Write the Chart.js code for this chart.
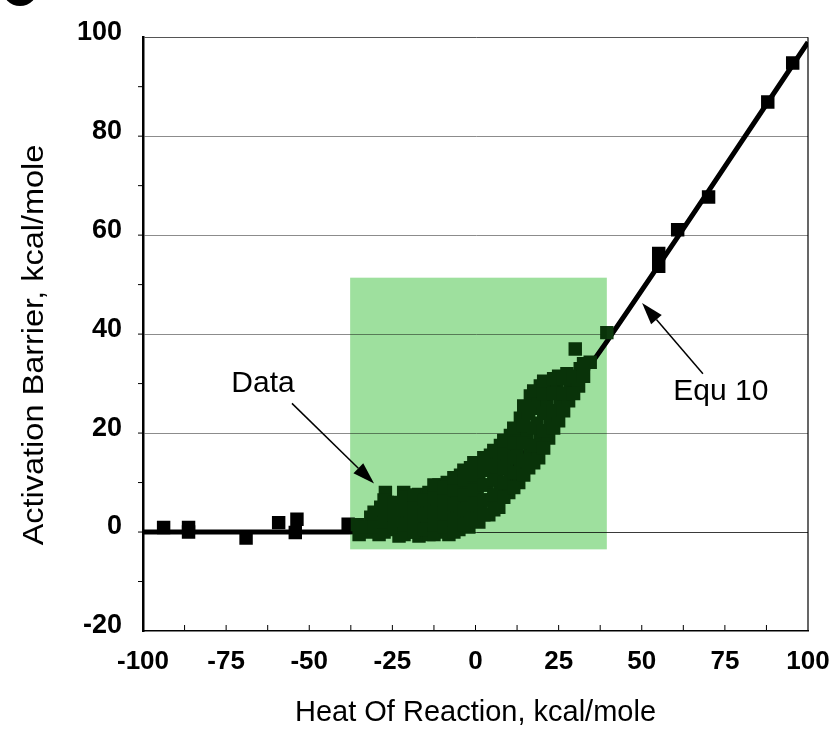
<!DOCTYPE html>
<html>
<head>
<meta charset="utf-8">
<title>Activation Barrier vs Heat Of Reaction</title>
<script src="https://cdn.jsdelivr.net/npm/chart.js@4.4.0/dist/chart.umd.min.js"></script>
<style>
  html, body { margin: 0; padding: 0; background: #fff; }
  #wrap { width: 836px; height: 731px; }
</style>
</head>
<body>
<div id="wrap"><canvas id="barrierChart" width="836" height="731"></canvas></div>
<script>
// measured points (heat of reaction, activation barrier), kcal/mole
const heatX = [
  // flat part on the left
  -93.8, -86.3, -86.3, -69, -59.2, -53.7, -54.2, -38.3,
  // loose points in the cloud
  -33.6, -28.6, -27.1, -21.6, -17.1, 30, 39.5, 34.5,
  // the dense cloud
  -35, -35.5, -32, -31.5, -29, -29.5, -28.5, -26, -25.5, -26.5, -23, -23.5, -22.5,
  -20, -19.5, -20.5, -17, -16.5, -17.5, -14, -14.5, -13.5, -14, -11, -10.5, -11.5, -11,
  -8, -8.5, -7.5, -8, -8.5, -5, -4.5, -5.5, -5, -4.5, -2, -1.5, -2.5, -2, -1.5,
  1, 1.5, 0.5, 1, 1.5, 4, 4.5, 3.5, 4, 4.5, 7, 7.5, 6.5, 7, 7.5,
  10, 10.5, 9.5, 10, 10.5, 13, 13.5, 12.5, 13, 13.5, 16, 16.5, 15.5, 16, 16.5,
  19, 19.5, 18.5, 19, 19.5, 22, 22.5, 21.5, 22, 25, 25.5, 24.5, 25, 28, 28.5, 27.5, 31, 31.5,
  // between the rows above
  -33.5, -30.5, -30.5, -27.5, -27.5, -27.5, -27.5, -24.5, -24.5, -24.5,
  -21.5, -21.5, -21.5, -21.5, -18.5, -18.5, -18.5, -18.5, -15.5, -15.5, -15.5,
  -12.5, -12.5, -12.5, -12.5, -12.5, -9.5, -9.5, -9.5, -9.5,
  -6.5, -6.5, -6.5, -6.5, -6.5, -3.5, -3.5, -3.5, -3.5, -3.5, -0.5, -0.5, -0.5, -0.5, -0.5,
  2.5, 2.5, 2.5, 2.5, 2.5, 5.5, 5.5, 5.5, 5.5, 5.5, 8.5, 8.5, 8.5, 8.5, 8.5,
  11.5, 11.5, 11.5, 11.5, 11.5, 14.5, 14.5, 14.5, 14.5, 14.5, 17.5, 17.5, 17.5, 17.5, 17.5,
  20.5, 20.5, 20.5, 20.5, 20.5, 23.5, 23.5, 23.5, 23.5, 26.5, 26.5, 26.5, 29.5, 29.5, 32.5, 32.5,
  // right side on the line
  55.1, 55.1, 60.8, 70.1, 87.9, 95.4
];
const barrierY = [
  0.9, 0.9, 0, -1.2, 1.9, 2.6, -0.1, 1.6,
  0.5, 2.6, 8.0, 8.0, 7.6, 37.0, 40.3, 34.3,
  -0.5, 1.5, 0, 3, -0.5, 2.5, 5, 0.5, 3.5, 6, -0.8, 2, 4.5,
  0, 3, 6, -0.8, 1.5, 4, -0.5, 2.5, 5, 8, 0, 3, 5.5, 9.5,
  -0.5, 2, 4.5, 7, 10, 0.5, 3, 6, 9, 11.5, 1, 4, 7, 10, 13,
  2, 5, 8, 11, 14, 3.5, 6.5, 9.5, 12.5, 15.5, 5, 8, 11, 14, 17.5,
  8, 11, 14, 17, 19.5, 10, 13, 16, 19, 23, 13, 16, 20, 24, 27.5,
  15, 18.5, 22, 26, 29.5, 19, 22.5, 26, 29.5, 22.5, 26, 29, 31.5, 26.5, 30, 32, 29.5, 33,
  1, 1, 4, 0, 2, 4.5, 6.5, 1, 3.5, 6,
  -0.5, 1.5, 4.5, 7, 0, 2.5, 5, 7.5, 0.5, 3.5, 6.5,
  -0.5, 1.5, 4, 7, 9.5, 1, 4, 6.5, 9,
  0, 2.5, 5.5, 8.5, 11, 1.5, 4.5, 7.5, 10.5, 12.5, 2.5, 5.5, 8.5, 11.5, 14,
  3.5, 6.5, 9.5, 12.5, 15, 4.5, 7.5, 10.5, 13.5, 16.5, 7, 10, 13, 16, 18.5,
  9, 12, 15, 18, 21, 11.5, 14.5, 18, 21.5, 25.5, 14, 17.5, 21, 25, 28.5,
  17, 20.5, 24, 28, 30.5, 21, 24.5, 28, 31, 24.5, 28, 31, 28, 31.5, 31.5, 34,
  53.7, 56.3, 61.1, 67.7, 86.9, 94.8
];

// Equ 10 curve
const equX = [-100, -38, -30, -20, -10, 0, 10, 20, 30, 40, 100];
const equY = [0, 0, 0.5, 2, 4.5, 8, 13, 20, 29.5, 39, 99];

const xTicks = [-100, -75, -50, -25, 0, 25, 50, 75, 100];
const yTicks = [-20, 0, 20, 40, 60, 80, 100];
const xMinor = [-87.5, -62.5, -37.5, -12.5, 12.5, 37.5, 62.5, 87.5];
const yMinor = [-10, 10, 30, 50, 70, 90];

// shaded data region
const boxX = [-37.7, 39.5];
const boxY = [-3.5, 51.4];

// annotations: label, text position, arrow tail and head
const noteText = ["Data", "Equ 10"];
const noteX = [-63.9, 73.8];
const noteY = [30.0, 28.4];
const arrowFrom = [[-55.2, 26.0], [68.4, 32.0]];
const arrowTo = [[-30.5, 9.8], [50.1, 46.3]];

const yTitle = "Activation Barrier, kcal/mole";
const FONT = "'Liberation Sans', Arial, sans-serif";

function inBox(p) {
  return p && p.x >= boxX[0] && p.x <= boxX[1] && p.y >= boxY[0] && p.y <= boxY[1];
}

const extrasPlugin = {
  id: "extras",
  afterDatasetsDraw(chart) {
    const { ctx, chartArea, scales } = chart;
    const xs = scales.x, ys = scales.y;
    ctx.save();

    // green box, multiplied over grid and markers
    const bx0 = xs.getPixelForValue(boxX[0]), bx1 = xs.getPixelForValue(boxX[1]);
    const by0 = ys.getPixelForValue(boxY[1]), by1 = ys.getPixelForValue(boxY[0]);
    ctx.globalCompositeOperation = "multiply";
    ctx.fillStyle = "rgb(158,224,158)";
    ctx.fillRect(bx0, by0, bx1 - bx0, by1 - by0);
    ctx.globalCompositeOperation = "source-over";

    // right frame line
    ctx.strokeStyle = "#000";
    ctx.lineWidth = 1.2;
    ctx.beginPath();
    ctx.moveTo(chartArea.right, chartArea.top);
    ctx.lineTo(chartArea.right, chartArea.bottom);
    ctx.stroke();

    // small tick marks
    ctx.lineWidth = 1;
    ctx.beginPath();
    xMinor.concat(xTicks.slice(1, -1)).forEach(v => {
      const px = xs.getPixelForValue(v);
      ctx.moveTo(px, chartArea.bottom);
      ctx.lineTo(px, chartArea.bottom - 6);
    });
    yMinor.concat(yTicks.slice(1, -1)).forEach(v => {
      const py = ys.getPixelForValue(v);
      ctx.moveTo(chartArea.left, py);
      ctx.lineTo(chartArea.left - 5, py);
    });
    ctx.stroke();

    // arrows + labels
    noteText.forEach((t, i) => {
      const x0 = xs.getPixelForValue(arrowFrom[i][0]), y0 = ys.getPixelForValue(arrowFrom[i][1]);
      const x1 = xs.getPixelForValue(arrowTo[i][0]), y1 = ys.getPixelForValue(arrowTo[i][1]);
      const ang = Math.atan2(y1 - y0, x1 - x0);
      const headLen = 22, headW = 7;
      const bx = x1 - headLen * Math.cos(ang), by = y1 - headLen * Math.sin(ang);
      ctx.strokeStyle = "#000";
      ctx.lineWidth = 1.5;
      ctx.beginPath();
      ctx.moveTo(x0, y0);
      ctx.lineTo(bx, by);
      ctx.stroke();
      ctx.fillStyle = "#000";
      ctx.beginPath();
      ctx.moveTo(x1, y1);
      ctx.lineTo(bx + headW * Math.sin(ang), by - headW * Math.cos(ang));
      ctx.lineTo(bx - headW * Math.sin(ang), by + headW * Math.cos(ang));
      ctx.closePath();
      ctx.fill();

      ctx.font = "30px " + FONT;
      ctx.textAlign = "center";
      ctx.textBaseline = "middle";
      ctx.fillText(t, xs.getPixelForValue(noteX[i]), ys.getPixelForValue(noteY[i]));
    });

    // y title, a little stretched like the scan
    ctx.save();
    ctx.translate(35, 345);
    ctx.rotate(-Math.PI / 2);
    ctx.scale(1.12, 1);
    ctx.font = "29px " + FONT;
    ctx.textAlign = "center";
    ctx.textBaseline = "middle";
    ctx.fillText(yTitle, 0, 0);
    ctx.restore();

    // corner of the figure badge, cut off by the page edge
    ctx.beginPath();
    ctx.arc(20, -12, 18, 0, Math.PI * 2);
    ctx.fill();

    ctx.restore();
  }
};

const ctx = document.getElementById("barrierChart");
new Chart(ctx, {
  type: "scatter",
  data: {
    datasets: [
      {
        label: "Data",
        data: heatX.map((x, i) => ({ x: x, y: barrierY[i] })),
        pointStyle: "rect",
        pointRadius: 9.5,
        backgroundColor: c => inBox(c.raw) ? "#0e3a0e" : "#000",
        borderWidth: 0,
        order: 1
      },
      {
        label: "Equ 10",
        type: "line",
        data: equX.map((x, i) => ({ x: x, y: equY[i] })),
        borderColor: "#000",
        borderWidth: 5,
        pointRadius: 0,
        cubicInterpolationMode: "monotone",
        fill: false,
        order: 2
      }
    ]
  },
  options: {
    responsive: false,
    animation: false,
    events: [],
    layout: { padding: { left: 0, top: 36, right: 28, bottom: 0 } },
    plugins: { legend: { display: false }, tooltip: { enabled: false } },
    scales: {
      x: {
        type: "linear",
        min: -100,
        max: 100,
        afterBuildTicks: s => { s.ticks = xTicks.map(v => ({ value: v })); },
        afterFit: s => { s.height = 100; s.paddingRight = 28; },
        grid: { display: false, drawTicks: false },
        border: { color: "#000", width: 1.5 },
        ticks: {
          color: "#000",
          font: { family: FONT, size: 26, weight: "bold" },
          padding: 15,
          maxRotation: 0,
          autoSkip: false
        },
        title: {
          display: true,
          text: "Heat Of Reaction, kcal/mole",
          color: "#000",
          font: { family: FONT, size: 29 },
          padding: { top: 0, bottom: 1 }
        }
      },
      y: {
        type: "linear",
        min: -20,
        max: 100,
        afterBuildTicks: s => { s.ticks = yTicks.map(v => ({ value: v })); },
        afterFit: s => { s.width = 143; },
        grid: {
          drawTicks: false,
          lineWidth: 1,
          color: c => {
            if (c.tick.value === -20) return "rgba(0,0,0,0)";
            if (c.tick.value === 0) return "#3a3a3a";
            if (c.tick.value === 100) return "#555";
            return "#8c8c8c";
          }
        },
        border: { color: "#000", width: 2.5 },
        ticks: {
          color: "#000",
          font: { family: FONT, size: 27, weight: "bold" },
          padding: 21,
          labelOffset: -5
        },
        title: { display: false }
      }
    }
  },
  plugins: [extrasPlugin]
});
</script>
</body>
</html>
